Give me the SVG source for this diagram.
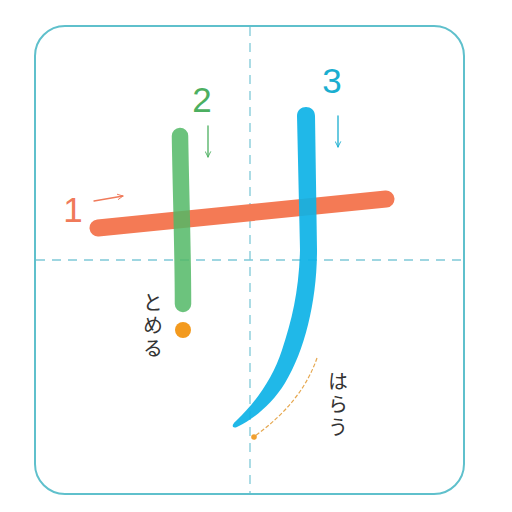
<svg xmlns="http://www.w3.org/2000/svg" width="512" height="512" viewBox="0 0 512 512">
<defs>
<style>
.frame{fill:#fff;stroke:#5fc0cc;stroke-width:2}
.guide{stroke:#7fc9d8;stroke-width:1.3;stroke-dasharray:9 7;fill:none}
.num{font-family:"Liberation Sans","DejaVu Sans",sans-serif;font-size:35px;text-anchor:middle}
.kana{font-family:"Noto Sans CJK JP","Noto Sans",sans-serif;font-size:20px;fill:#333;writing-mode:vertical-rl;letter-spacing:3px}
.arr{fill:none;stroke-width:1.3;stroke-linecap:round}
</style>
<marker id="headR" viewBox="0 0 10 10" refX="9" refY="5" markerWidth="7" markerHeight="7" orient="auto" markerUnits="userSpaceOnUse">
<path d="M1,1 L9,5 L1,9" fill="none" stroke="#f07a5a" stroke-width="1.3"/>
</marker>
<marker id="headG" viewBox="0 0 10 10" refX="9" refY="5" markerWidth="7" markerHeight="7" orient="auto" markerUnits="userSpaceOnUse">
<path d="M1,1 L9,5 L1,9" fill="none" stroke="#4caf60" stroke-width="1.3"/>
</marker>
<marker id="headB" viewBox="0 0 10 10" refX="9" refY="5" markerWidth="7" markerHeight="7" orient="auto" markerUnits="userSpaceOnUse">
<path d="M1,1 L9,5 L1,9" fill="none" stroke="#1aaed0" stroke-width="1.3"/>
</marker>
</defs>
<rect width="512" height="512" fill="#fff"/>
<g id="frame">
<rect class="frame" x="35" y="26" width="429" height="468" rx="30"/>
<line class="guide" x1="250" y1="27" x2="250" y2="493"/>
<line class="guide" x1="36" y1="260" x2="463" y2="260"/>
</g>
<g id="stroke1">
<line x1="98" y1="228" x2="386" y2="199" stroke="#f47a55" stroke-width="17" stroke-linecap="round"/>
<text class="num" x="73" y="222" fill="#f07a5a">1</text>
</g>
<g id="stroke2">
<path d="M180,136 C181,200 183,250 183,304" fill="none" stroke="#52b866" stroke-opacity="0.85" stroke-width="16.5" stroke-linecap="round"/>
<text class="num" x="202" y="112" fill="#4caf60">2</text>
<circle cx="183" cy="330" r="8" fill="#f39a1e"/>
</g>
<g id="stroke3">
<path d="M297,116 C297,104 315,104 315,116 L317,250 C317,300 305,350 285,383 C272,404 255,418 237,427 C232,429 231,425 236,421 C256,402 273,378 282,350 C292,320 299,290 300,250 L297,116 Z" fill="#0db2e6" fill-opacity="0.92"/>
<text class="num" x="332" y="93" fill="#1aaed0">3</text>
</g>
<g id="connectors">
<line class="arr" x1="94" y1="201" x2="123" y2="196" stroke="#f07a5a" marker-end="url(#headR)"/>
<line class="arr" x1="208" y1="126" x2="208" y2="157" stroke="#4caf60" marker-end="url(#headG)"/>
<line class="arr" x1="338" y1="116" x2="338" y2="147" stroke="#1aaed0" marker-end="url(#headB)"/>
<path d="M317,358 Q302,402 255,436" fill="none" stroke="#e6a850" stroke-width="1.2" stroke-dasharray="4 2"/>
<circle cx="254" cy="437" r="2.8" fill="#f0a030"/>
</g>
<g id="labels">
<text class="kana" x="153" y="292">とめる</text>
<text class="kana" x="338" y="371">はらう</text>
</g>
</svg>
